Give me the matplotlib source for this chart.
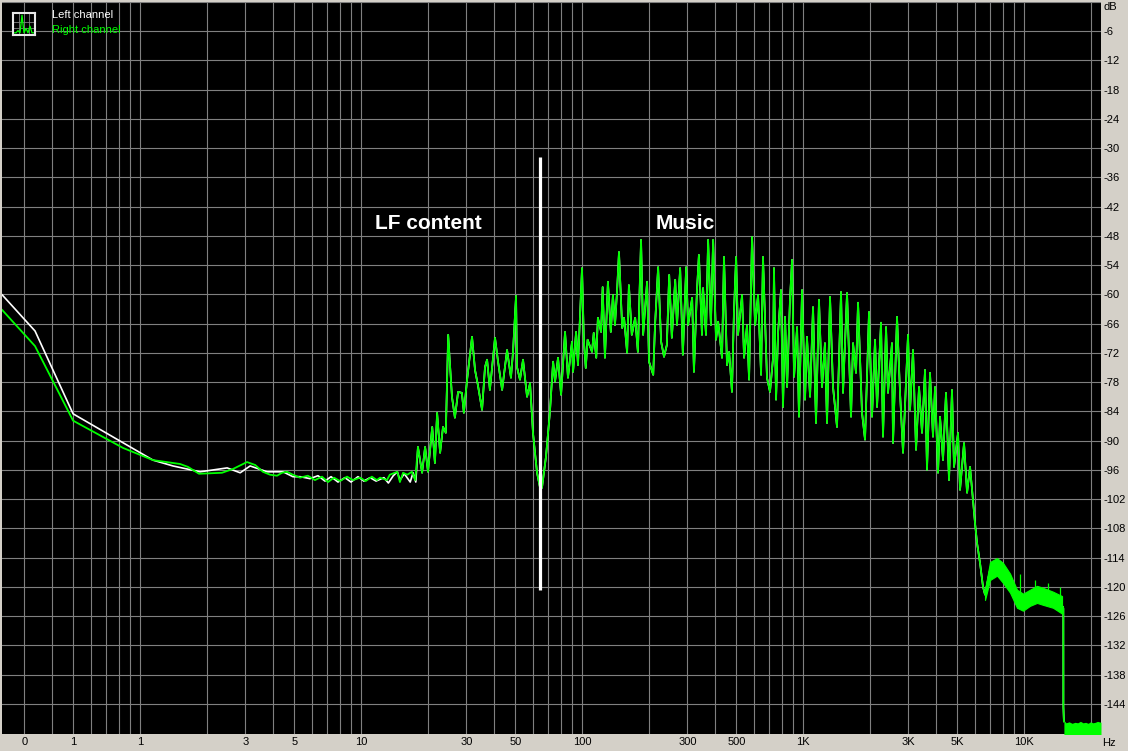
import numpy as np
import matplotlib.pyplot as plt
from matplotlib.ticker import FixedLocator, NullLocator

plt.rcParams['font.family'] = ['Liberation Sans', 'DejaVu Sans']

# ---- right channel (green) ----
r_low_f = [0.238, 0.335, 0.498, 0.838, 1.145, 1.52, 1.65, 1.85, 2.35, 2.64,
           3.05, 3.32, 3.60, 3.88, 4.17, 4.39, 4.63, 4.92, 5.30, 5.75,
           6.19, 6.66, 7.09, 7.55, 8.03, 8.65, 9.20, 9.90, 10.5, 11.2,
           11.8, 12.2, 13.1, 13.5, 14.6, 15.0, 15.5, 16.2, 17.0, 17.6]
r_low_db = [-63.2, -70.6, -85.9, -91.5, -94.0, -94.8, -95.4, -96.8, -96.6, -95.8,
            -94.4, -95.0, -96.4, -97.0, -97.2, -96.6, -96.4, -97.0, -97.6, -97.2,
            -98.1, -97.4, -98.5, -97.6, -98.3, -97.4, -98.1, -97.6, -98.3, -97.4,
            -98.1, -97.6, -98.1, -97.0, -96.4, -98.5, -96.6, -97.0, -96.4, -98.1]

r_lf_f = [18.1, 18.9, 19.5, 20.1, 21.0, 21.6, 22.1, 22.8, 23.5, 24.2,
          24.8, 25.8, 26.6, 27.5, 28.6, 29.2, 30.2, 31.8, 32.8, 33.8,
          35.3, 36.4, 37.2, 38.3, 40.4, 41.7, 43.5, 45.8, 47.7, 48.7,
          50.3, 50.8, 52.4, 54.1, 56.4, 58.2, 60.0, 62.6, 64.6, 65.9,
          68.7, 71.6, 74.0, 75.5, 77.9, 80.4, 83.8, 86.4, 90.1, 91.1,
          94.0, 95.9, 97.9]
r_lf_db = [-91.3, -96.6, -91.3, -96.4, -87.2, -94.6, -84.3, -92.5, -87.2, -88.4,
           -68.3, -81.0, -85.3, -80.0, -80.2, -84.3, -77.5, -68.7, -75.5, -78.6,
           -83.7, -74.9, -73.4, -79.6, -68.9, -73.8, -79.6, -71.4, -77.1, -72.0,
           -60.3, -74.9, -77.5, -73.4, -81.0, -78.2, -88.4, -96.6, -99.7, -99.7,
           -93.3, -84.1, -73.8, -77.9, -73.0, -80.6, -67.7, -77.1, -69.7, -75.9,
           -67.7, -74.5, -64.8]

r_music_f = [100, 102, 104, 106, 111, 113, 116, 118, 122, 124,
             127, 131, 135, 138, 141, 144, 147, 152, 155, 160,
             163, 168, 174, 179, 185, 189, 197, 201, 210, 214,
             221, 228, 235, 242, 248, 255, 264, 269, 278, 286,
             296, 302, 315, 321, 331, 338, 349, 353, 364, 372,
             383, 392, 404, 413, 430, 439, 453, 463, 477, 487,
             498, 508, 530, 541, 558, 570, 588, 607, 626, 646,
             659, 687, 709, 732, 739, 755, 771, 795, 812, 829,
             847, 873, 892, 911, 940, 959, 990, 1021, 1042, 1076,
             1110, 1145, 1181, 1219, 1257, 1284, 1325, 1367, 1425, 1486,
             1517, 1582, 1649, 1684, 1737, 1774, 1849, 1908, 1989, 2052,
             2118, 2162, 2254, 2301, 2375, 2424, 2527, 2554, 2663, 2748,
             2835, 2986, 3050, 3146, 3246, 3349, 3455, 3565, 3639, 3755,
             3874, 3957, 4082, 4168, 4300, 4436, 4577, 4722, 4822, 5028,
             5134, 5353, 5524, 5699, 5879]
r_music_db = [-54.6, -69.7, -75.1, -69.3, -71.8, -67.9, -73.0, -64.8, -67.7, -58.5,
              -73.0, -57.4, -67.7, -60.1, -66.3, -59.5, -51.3, -66.9, -64.8, -72.0,
              -58.1, -68.3, -64.8, -71.8, -48.8, -68.3, -57.4, -73.8, -76.5, -66.3,
              -54.4, -69.7, -72.8, -70.4, -56.0, -68.9, -57.0, -66.3, -54.6, -72.4,
              -54.4, -66.3, -60.7, -75.9, -59.5, -51.9, -68.3, -58.7, -68.3, -48.8,
              -66.3, -48.8, -69.3, -65.6, -73.0, -52.3, -74.5, -71.8, -80.0, -63.6,
              -52.3, -68.3, -60.1, -73.0, -66.3, -77.5, -48.2, -66.3, -60.1, -76.5,
              -52.3, -77.1, -80.0, -73.0, -54.6, -81.6, -67.9, -59.1, -83.1, -64.6,
              -79.0, -61.1, -52.9, -76.9, -66.7, -85.1, -59.1, -81.6, -68.7, -81.0,
              -62.6, -86.4, -61.1, -79.0, -70.0, -86.4, -60.5, -79.0, -87.2, -59.5,
              -80.2, -59.7, -85.1, -70.0, -76.1, -61.7, -84.3, -89.8, -63.6, -85.1,
              -69.3, -83.1, -65.8, -89.2, -66.7, -80.2, -70.0, -90.5, -64.6, -80.2,
              -92.5, -68.3, -83.7, -71.4, -91.9, -79.0, -88.4, -75.5, -96.0, -76.1,
              -89.2, -79.0, -96.6, -85.1, -94.0, -80.2, -98.1, -79.6, -95.4, -88.4,
              -100.1, -90.5, -100.7, -95.4, -102.2]

r_hf_f = [6001, 6129, 6323, 6523, 6660, 7018, 7548, 8035, 8646, 9296,
          9897, 10645, 11450, 12190, 13530, 15015, 15060, 15070, 15150]
r_hf_db = [-106.9, -111.0, -115.1, -120.0, -121.6, -116.5, -114.5, -116.5, -119.2, -123.1,
           -123.3, -122.3, -121.6, -122.3, -123.3, -124.1, -124.5, -144.6, -147.6]

# thick noise band above 6.5 kHz
band_f = [6660, 7018, 7548, 8035, 8646, 9296, 9897, 10645, 11450, 12190, 13530, 14860]
band_top = [-120.6, -114.9, -114.1, -115.1, -117.3, -120.6, -121.4, -120.6, -119.8, -120.2, -121.0, -121.9]
band_bot = [-122.7, -118.6, -117.7, -119.2, -121.2, -124.3, -124.9, -123.9, -123.3, -123.7, -124.3, -125.5]

spike_f = [9592, 11214, 12844, 14552]
spike_top = [-117.3, -118.6, -119.2, -120.0]
spike_base = [-122.5, -121.8, -123.0, -123.8]

floor_f = [15150, 15500, 16000, 16500, 17000, 17500, 18000, 18500,
           19000, 19500, 20000, 20500, 21000, 21500, 22300]
floor_top = [-147.4, -147.9, -147.7, -148.0, -147.8, -147.9, -147.6, -147.9,
             -147.8, -148.0, -147.7, -147.9, -147.8, -147.6, -147.8]

# ---- left channel (white), only differs visibly below ~18 Hz ----
l_low_f = [0.238, 0.335, 0.498, 1.145, 1.41, 1.87, 2.48, 2.84, 3.15, 3.76,
           4.44, 4.92, 5.30, 5.88, 6.39, 6.87, 7.32, 7.87, 8.46, 9.01,
           9.69, 10.3, 11.0, 11.7, 12.7, 13.3, 14.0, 14.6, 15.0, 15.7,
           16.7, 17.2, 17.7]
l_low_db = [-60.1, -67.5, -84.5, -94.0, -95.2, -96.4, -95.6, -96.6, -95.2, -96.4,
            -96.4, -97.4, -97.4, -97.8, -97.2, -98.3, -97.4, -98.5, -97.6, -98.5,
            -97.4, -98.3, -97.6, -98.3, -97.6, -98.7, -97.2, -96.4, -98.1, -96.8,
            -98.5, -96.6, -98.5]

# marker line between LF content and music
marker_f = 64.6
marker_db = (-120.6, -31.8)

x_labels = {0.3: '0', 0.5: '1', 1: '1', 3: '3', 5: '5', 10: '10', 30: '30',
            50: '50', 100: '100', 300: '300', 500: '500', 1000: '1K',
            3000: '3K', 5000: '5K', 10000: '10K'}
y_ticks = list(range(0, -150, -6))

icon_x = [0, 1, 2, 3, 4, 5, 6, 7, 8, 9, 10]
icon_y = [1, 1, 2, 1, 9, 1, 3, 1, 4, 1, 1]

GREEN = '#00ff00'
fig = plt.figure(figsize=(11.28, 7.51), dpi=100, facecolor='#d4d0c8')
ax = fig.add_axes([2 / 1128, 17 / 751, 1099 / 1128, 732 / 751], facecolor='black')
ax.set_xscale('log')
ax.set_xlim(0.2375, 22300)
ax.set_ylim(-150.2, 0)

grid_x = [round(n * 10.0 ** k, 6) for k in range(-1, 5) for n in range(1, 10)]
grid_x = [g for g in grid_x if 0.2375 < g < 22300]
ax.xaxis.set_major_locator(FixedLocator(grid_x))
ax.xaxis.set_minor_locator(NullLocator())
ax.set_xticklabels([x_labels.get(g, '') for g in grid_x])
ax.yaxis.tick_right()
ax.set_yticks(y_ticks)
ax.set_yticklabels([''] + [str(v) for v in y_ticks[1:]])
ax.tick_params(axis='both', length=0, labelsize=8, colors='black')
ax.tick_params(axis='x', pad=2)
ax.tick_params(axis='y', pad=1.5)
ax.grid(True, color='#808080', lw=0.8)
ax.set_axisbelow(True)
for s in ax.spines.values():
    s.set_visible(False)

right_f = r_low_f + r_lf_f + r_music_f + r_hf_f
right_db = r_low_db + r_lf_db + r_music_db + r_hf_db
left_f = l_low_f + r_lf_f + r_music_f + r_hf_f
left_db = l_low_db + r_lf_db + r_music_db + r_hf_db

ax.plot(left_f, left_db, color='white', lw=1.2, zorder=3)
ax.plot(right_f, right_db, color=GREEN, lw=1.3, zorder=4)
ax.fill_between(band_f, band_bot, band_top, color=GREEN, lw=0.8, zorder=4)
ax.vlines(spike_f, spike_base, spike_top, color=GREEN, lw=0.9, zorder=4)
ax.fill_between(floor_f, -151, floor_top, color=GREEN, lw=0, zorder=4)

ax.plot([marker_f, marker_f], marker_db, color='white', lw=2.3,
        solid_capstyle='butt', zorder=5)
ax.text(20.1, -45.5, 'LF content', color='white', fontsize=15,
        fontweight='bold', ha='center', va='center', zorder=6)
ax.text(292, -45.5, 'Music', color='white', fontsize=15,
        fontweight='bold', ha='center', va='center', zorder=6)

fig.text(1103 / 1128, 1 - 7 / 751, 'dB', fontsize=8, ha='left', va='center')
fig.text(1102 / 1128, 1 - 743 / 751, 'Hz', fontsize=8, ha='left', va='center')

# legend
fig.text(52 / 1128, 1 - 15 / 751, 'Left channel', color='white', fontsize=8,
         ha='left', va='center')
fig.text(52 / 1128, 1 - 30 / 751, 'Right channel', color=GREEN, fontsize=8,
         ha='left', va='center')
icon = fig.add_axes([13 / 1128, 1 - 35 / 751, 22 / 1128, 22 / 751], facecolor='black')
icon.plot(icon_x, icon_y, color=GREEN, lw=0.9)
icon.set_xlim(-0.5, 10.5)
icon.set_ylim(0, 10)
icon.set_xticks([2.5, 5, 7.5])
icon.set_yticks([3, 6])
icon.tick_params(length=0, labelbottom=False, labelleft=False)
icon.grid(True, color='#808080', lw=0.6)
for s in icon.spines.values():
    s.set_color('#e8e8e8')
    s.set_linewidth(1.5)

fig.savefig('out.png', dpi=100, facecolor=fig.get_facecolor())
